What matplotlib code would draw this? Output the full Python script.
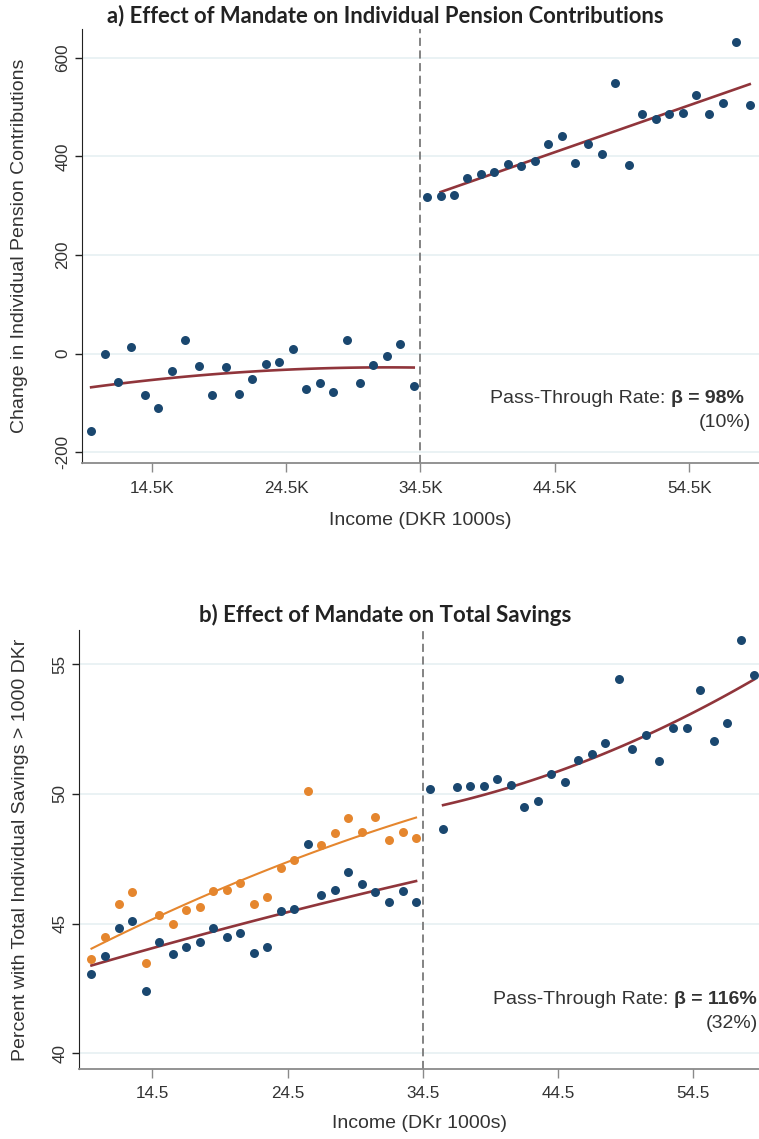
import numpy as np
import matplotlib.pyplot as plt

plt.rcParams['font.family'] = ['Liberation Sans', 'DejaVu Sans']
plt.rcParams['axes.unicode_minus'] = False

# income bins (DKR 1000s)
income = np.arange(10, 60)
cutoff = 34.5

# panel a: change in individual pension contributions
pension = [-157, 0, -57, 13, -83, -110, -36, 28, -26, -83, -28, -81, -52, -20, -17,
           9, -72, -59, -77, 28, -59, -22, -5, 20, -66,
           318, 320, 321, 357, 364, 368, 385, 380, 391, 426, 441, 386, 426, 405, 548,
           382, 485, 475, 485, 487, 525, 485, 508, 632, 504]

# panel b: percent with total individual savings > 1000 DKr
savings = [43.08, 43.76, 44.82, 45.10, 42.40, 44.29, 43.85, 44.11, 44.28, 44.85,
           44.48, 44.66, 43.88, 44.12, 45.48, 45.58, 48.09, 46.11, 46.28, 46.98,
           46.52, 46.24, 45.85, 46.26, 45.82,
           50.21, 48.66, 50.26, 50.31, 50.31, 50.57, 50.34, 49.50, 49.74, 50.75,
           50.48, 51.31, 51.55, 51.96, 54.42, 51.73, 52.28, 51.26, 52.53, 52.54,
           54.02, 52.04, 52.72, 55.94, 54.57]
income_cf = np.arange(10, 35)
savings_cf = [43.65, 44.48, 45.76, 46.22, 43.47, 45.34, 44.97, 45.54, 45.63, 46.25,
              46.28, 46.55, 45.76, 46.04, 47.15, 47.47, 50.12, 48.02, 48.49, 49.06,
              48.52, 49.12, 48.22, 48.52, 48.29]

xticks = [14.5, 24.5, 34.5, 44.5, 54.5]

blue = '#1a476f'
red = '#90353b'
orange = '#e5862e'
grid = '#e6f0f2'
txt = '#333333'


def fit(ax, x, y, lo, hi, deg, color, lw):
    x = np.asarray(x, float)
    y = np.asarray(y, float)
    m = (x >= lo) & (x <= hi)
    c = np.polyfit(x[m], y[m], deg)
    xx = np.linspace(lo, hi, 100)
    ax.plot(xx, np.polyval(c, xx), color=color, lw=lw, zorder=3)


def style(ax):
    for s in ['top', 'right']:
        ax.spines[s].set_visible(False)
    ax.spines['left'].set_color('#222222')
    ax.spines['bottom'].set_color('#8a8a8a')
    ax.spines['bottom'].set_linewidth(1.3)
    ax.tick_params(axis='x', length=6.5, width=1, color='#8a8a8a', pad=6,
                   labelsize=12.3, labelcolor=txt)
    ax.tick_params(axis='y', length=5, width=1, color='#222222', pad=3.5,
                   labelsize=12.3, labelcolor=txt, labelrotation=90)
    for lab in ax.get_yticklabels():
        lab.set_va('center')
    ax.grid(axis='y', color=grid, lw=1.2, zorder=0)
    ax.set_axisbelow(True)
    ax.axvline(cutoff, color='#7a7a7a', lw=1.3, ls=(0, (4.5, 2.5)), zorder=2)


def beta_note(ax, x, y, bold, se, x2, y2):
    t = ax.text(x, y, bold, transform=ax.transAxes, ha='right', va='center',
                fontsize=14, fontweight='bold', color=txt)
    ax.annotate('Pass-Through Rate: ', xy=(0, 0), xycoords=t, ha='right',
                va='bottom', fontsize=14, color=txt)
    ax.text(x2, y2, se, transform=ax.transAxes, ha='right', va='center',
            fontsize=14, color=txt)


fig = plt.figure(figsize=(7.59, 11.39), dpi=100)

# ---- panel a
ax1 = fig.add_axes([0.1084, 0.5932, 0.8916, 0.3813])
style(ax1)
ax1.scatter(income, pension, s=42, color=blue, zorder=4, linewidths=0)
fit(ax1, income, pension, 10, 34, 2, red, 1.9)
fit(ax1, income, pension, 36, 59, 1, red, 1.9)
ax1.set_xlim(9.34, 59.69)
ax1.set_ylim(-222.3, 658)
ax1.set_yticks([-200, 0, 200, 400, 600])
ax1.set_xticks(xticks)
ax1.set_xticklabels([f'{v}K' for v in xticks])
ax1.set_ylabel('Change in Individual Pension Contributions', fontsize=14, color=txt)
ax1.yaxis.set_label_coords(-0.080, 0.5)
ax1.set_xlabel('Income (DKR 1000s)', fontsize=14, color=txt)
ax1.xaxis.set_label_coords(0.5, -0.112)
beta_note(ax1, 0.978, 0.150, 'β = 98%', '(10%)', 0.988, 0.093)
fig.text(0.507, 0.986, 'a) Effect of Mandate on Individual Pension Contributions',
         family=['Lato', 'DejaVu Sans'], fontweight='bold', fontsize=15.8,
         color='#222222', ha='center', va='center')

# ---- panel b
ax2 = fig.add_axes([0.1045, 0.0617, 0.8955, 0.3852])
style(ax2)
ax2.scatter(income_cf, savings_cf, s=42, color=orange, zorder=4, linewidths=0)
ax2.scatter(income, savings, s=42, color=blue, zorder=4, linewidths=0)
fit(ax2, income_cf, savings_cf, 10, 34, 2, orange, 1.5)
fit(ax2, income, savings, 10, 34, 2, red, 1.9)
fit(ax2, income, savings, 36, 59, 2, red, 1.9)
ax2.set_xlim(9.1, 59.36)
ax2.set_ylim(39.41, 56.32)
ax2.set_yticks([40, 45, 50, 55])
ax2.set_xticks(xticks)
ax2.set_xticklabels([f'{v}' for v in xticks])
ax2.set_ylabel('Percent with Total Individual Savings > 1000 DKr', fontsize=14, color=txt)
ax2.yaxis.set_label_coords(-0.074, 0.5)
ax2.set_xlabel('Income (DKr 1000s)', fontsize=14, color=txt)
ax2.xaxis.set_label_coords(0.5, -0.1055)
beta_note(ax2, 0.997, 0.157, 'β = 116%', '(32%)', 0.9985, 0.104)
fig.text(0.507, 0.46, 'b) Effect of Mandate on Total Savings',
         family=['Lato', 'DejaVu Sans'], fontweight='bold', fontsize=16,
         color='#222222', ha='center', va='center')

fig.savefig('out.png', dpi=100)
